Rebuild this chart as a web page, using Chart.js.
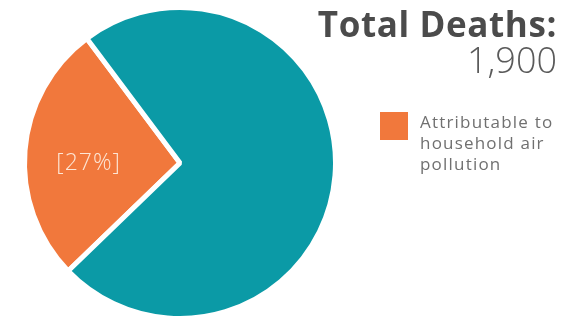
<!DOCTYPE html>
<html>
<head>
<meta charset="utf-8">
<script src="https://cdn.jsdelivr.net/npm/chart.js@4.4.0/dist/chart.umd.min.js"></script>
<style>
  html, body { margin: 0; padding: 0; background: #fff; }
  #wrap { position: relative; width: 581px; height: 322px; }
</style>
</head>
<body>
<div id="wrap"><canvas id="pie-chart" width="581" height="322"></canvas></div>
<script>
// data
var causes = ['Attributable to household air pollution', 'Other causes'];
var shares = [27, 73];
var colors = ['#f1783c', '#0b9aa6'];
var totalLabel = 'Total Deaths:';
var totalValue = '1,900';
var legendLines = ['Attributable to', 'household air', 'pollution'];

// draws the title, legend and the % label on the orange slice
var textPlugin = {
  id: 'textPlugin',
  afterDraw: function(chart) {
    var ctx = chart.ctx;
    ctx.save();
    ctx.textAlign = 'right';
    ctx.textBaseline = 'alphabetic';
    ctx.fillStyle = '#4b4b4b';
    ctx.font = 'bold 35px "Open Sans"';
    ctx.letterSpacing = '0.6px';
    ctx.fillText(totalLabel, 557, 37);
    ctx.fillStyle = '#5a5a5a';
    ctx.font = '300 36px "Open Sans"';
    ctx.letterSpacing = '0px';
    ctx.fillText(totalValue, 557, 73);

    // legend (only the highlighted slice)
    ctx.fillStyle = colors[0];
    ctx.fillRect(380, 112, 28, 28);
    ctx.textAlign = 'left';
    ctx.fillStyle = '#707070';
    ctx.font = '17px "Open Sans"';
    ctx.letterSpacing = '1.2px';
    legendLines.forEach(function(line, i) {
      ctx.fillText(line, 420, 128 + i * 21);
    });

    // percent label inside the slice
    var arc = chart.getDatasetMeta(0).data[0];
    var total = shares.reduce(function(a, b) { return a + b; }, 0);
    var pct = Math.round(shares[0] / total * 100);
    var mid = (arc.startAngle + arc.endAngle) / 2;
    var r = arc.outerRadius * 0.59;
    ctx.textAlign = 'center';
    ctx.textBaseline = 'middle';
    ctx.fillStyle = '#fde6d6';
    ctx.font = '300 23px "Open Sans"';
    ctx.letterSpacing = '1px';
    ctx.fillText('[' + pct + '%]', arc.x + Math.cos(mid) * r, arc.y);
    ctx.restore();
  }
};

new Chart(document.getElementById('pie-chart'), {
  type: 'pie',
  data: {
    labels: causes,
    datasets: [{
      data: shares,
      backgroundColor: colors,
      borderColor: '#ffffff',
      borderWidth: 5
    }]
  },
  options: {
    responsive: false,
    animation: false,
    rotation: 226,
    layout: {
      padding: { left: 22, top: 5, right: 243, bottom: 1 }
    },
    plugins: {
      legend: { display: false },
      tooltip: { enabled: false }
    }
  },
  plugins: [textPlugin]
});
</script>
</body>
</html>
